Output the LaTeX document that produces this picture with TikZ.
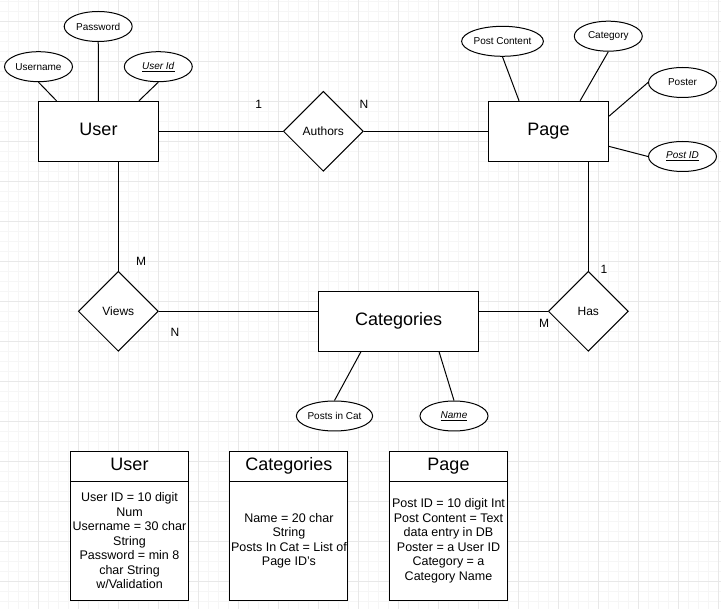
\documentclass[tikz,border=0pt]{standalone}
\usepackage{fontspec}
\setmainfont{Liberation Sans}
\usetikzlibrary{shapes.geometric, positioning}

\begin{document}
\begin{tikzpicture}[x=1pt, y=-1pt, line width=1pt,
    entity/.style={draw, fill=white, minimum width=120, minimum height=60, inner sep=0, text height=13, text depth=4, font=\fontsize{18}{21}\selectfont},
    attr/.style={draw, ellipse, fill=white, minimum width=68, minimum height=30, inner sep=0, font=\fontsize{10}{12}\selectfont},
    relation/.style={draw, diamond, fill=white, minimum width=80, minimum height=80, inner sep=0, font=\fontsize{12}{14}\selectfont},
    card/.style={font=\fontsize{12}{14}\selectfont, inner sep=0},
    tabtitle/.style={draw, fill=white, minimum width=118, minimum height=30, inner sep=0, outer sep=0, text height=13, text depth=4, font=\fontsize{18}{21}\selectfont},
    tabbody/.style={draw, fill=white, minimum width=118, minimum height=119, inner sep=0, outer sep=0, align=center, font=\fontsize{12.5}{14.5}\selectfont},
    minorgrid/.style={draw=black!3.5, line width=0.7pt},
    majorgrid/.style={draw=black!9, line width=0.7pt}]
  \useasboundingbox[fill=white] (0,0) rectangle (721,609);
  % Background grid
  \foreach \gx in {8.5,18.5,...,718.5} \draw[minorgrid] (\gx,0) -- (\gx,609);
  \foreach \gy in {1.3,11.3,...,608} \draw[minorgrid] (0,\gy) -- (721,\gy);
  \foreach \gx in {38.5,78.5,...,718.5} \draw[majorgrid] (\gx,0) -- (\gx,609);
  \foreach \gy in {21.3,61.3,...,608} \draw[majorgrid] (0,\gy) -- (721,\gy);

  % Entities
  \node[entity] (user) at (98.5,131.3) {User};
  \node[entity] (page) at (548.5,131.3) {Page};
  \node[entity, minimum width=160] (cat) at (398.6,321.3) {Categories};

  % Relations
  \node[relation] (authors) at (323.3,131.3) {Authors};
  \node[relation] (views) at (118.3,311.3) {Views};
  \node[relation] (has) at (588.3,311.3) {Has};

  % User attributes
  \node[attr] (uname) at (38.5,66.7) {Username};
  \node[attr] (pword) at (98.2,26.5) {Password};
  \node[attr] (uid) at (158.3,66.7) {\underline{\textit{User Id}}};

  % Page attributes
  \node[attr, minimum width=72] (pcontent) at (502.5,41.3) {Post Content};
  \node[attr] (pcat) at (608.3,36.2) {Category};
  \node[attr] (poster) at (682.5,82.5) {Poster};
  \node[attr] (pid) at (682.5,156.5) {\underline{\textit{Post ID}}};

  % Categories attributes
  \node[attr] (pincat) at (334.5,416) {Posts in Cat};
  \node[attr] (cname) at (454,416) {\underline{\textit{Name}}};

  % Attribute links
  \draw (uname.south) -- (user.144);
  \draw (pword) -- (user);
  \draw (uid.south) -- (user.37);
  \draw (pcontent.south) -- (page.134);
  \draw (pcat.south) -- (page.44);
  \draw (poster.west) -- (page.14);
  \draw (pid.west) -- (page.-14);
  \draw (pincat.north) -- (cat.219);
  \draw (cname.north) -- (cat.323);

  % Relation links
  \draw (user) -- (authors);
  \draw (authors) -- (page);
  \draw (views.north) -- (views.north |- user.south);
  \draw (views.east) -- (views.east -| cat.west);
  \draw (has.north) -- (has.north |- page.south);
  \draw (has.west) -- (has.west -| cat.east);

  % Cardinalities
  \node[card] (cardua) at (258.7,104.5) {1};
  \node[card] (cardap) at (364,104.5) {N};
  \node[card] (carduv) at (141,261) {M};
  \node[card] (cardvc) at (175,332) {N};
  \node[card] (cardph) at (604,269) {1};
  \node[card] (cardhc) at (544,323) {M};

  % Tables
  \node[tabtitle] (usertab) at (129.5,466.5) {User};
  \node[tabbody, below=0pt of usertab] (userbody) {User ID = 10 digit\\Num\\Username = 30 char\\String\\Password = min 8\\char String\\w/Validation};
  \node[tabtitle] (cattab) at (288.9,466.5) {Categories};
  \node[tabbody, below=0pt of cattab] (catbody) {Name = 20 char\\String\\Posts In Cat = List of\\Page ID's};
  \node[tabtitle] (pagetab) at (448.5,466.5) {Page};
  \node[tabbody, below=0pt of pagetab] (pagebody) {Post ID = 10 digit Int\\Post Content = Text\\data entry in DB\\Poster = a User ID\\Category = a\\Category Name};
\end{tikzpicture}
\end{document}
